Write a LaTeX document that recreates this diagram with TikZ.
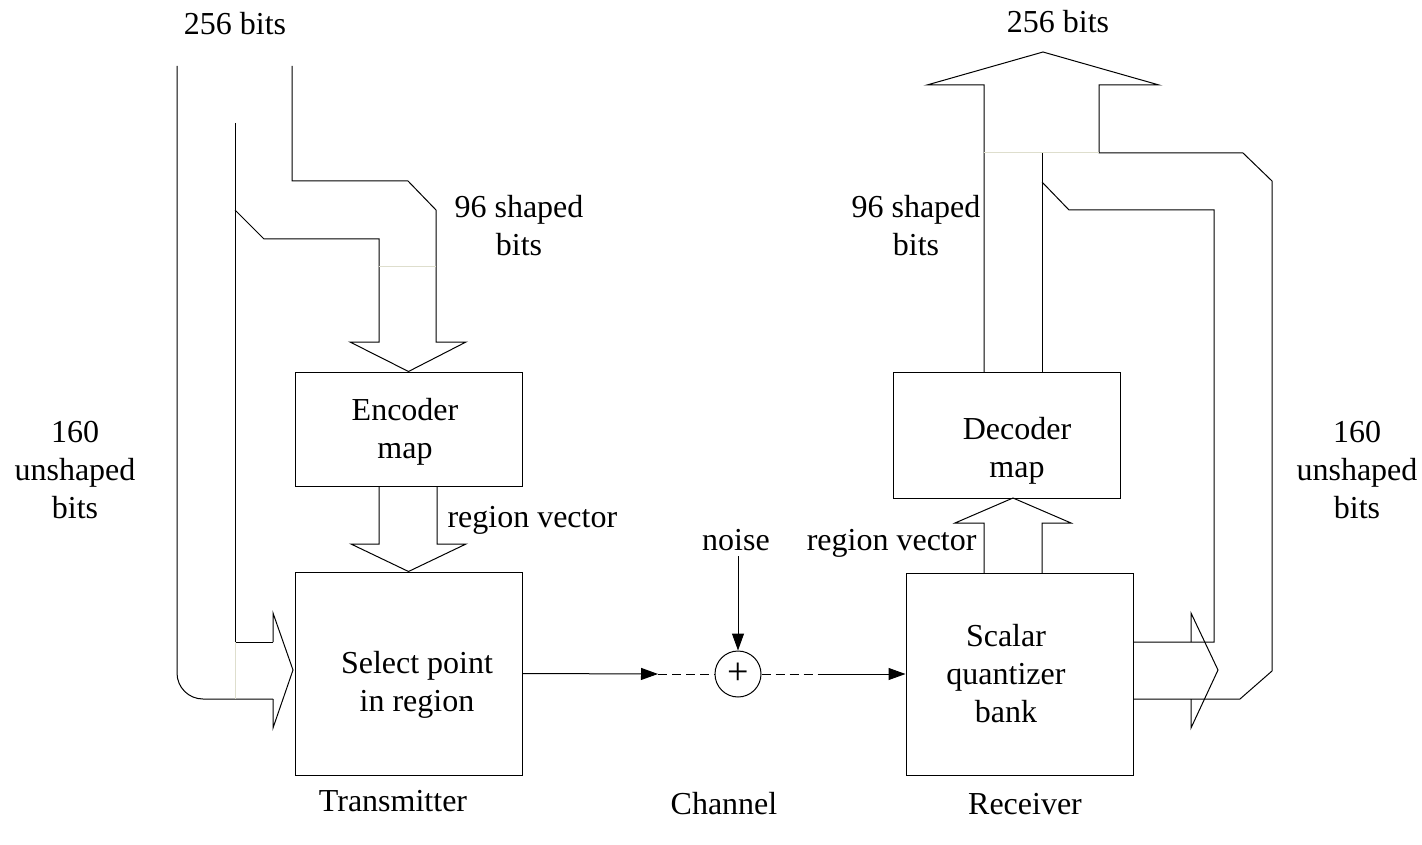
\documentclass[tikz,border=0pt]{standalone}
\usepackage{fontspec}
\setmainfont{Liberation Serif}
\usetikzlibrary{arrows.meta}
\definecolor{paleline}{RGB}{222,222,205}
\begin{document}
\begin{tikzpicture}[x=1pt,y=-1pt,line width=1pt,line join=miter,
  every node/.style={font=\fontsize{32}{38}\selectfont, inner sep=0pt},
  blockbox/.style={draw, minimum width=227pt},
  lbl/.style={align=center},
  pale/.style={draw=paleline},
  sig/.style={-{Triangle[length=17pt,width=12pt]}},
  chan/.style={dash pattern=on 9pt off 5pt}]
\useasboundingbox (0,0) rectangle (1422,845);

% processing blocks
\node[blockbox, minimum height=114pt] (enc) at (408.5,429) {};
\node[blockbox, minimum height=203pt] (sel) at (408.5,673.5) {};
\node[blockbox, minimum height=126pt] (dec) at (1006.5,435) {};
\node[blockbox, minimum height=202pt] (sqb) at (1019.5,674) {};
\node[draw, circle, minimum size=46pt, font=\fontsize{38}{40}\selectfont] (sum) at (738,674) {+};

% block captions
\node[lbl] (encT) at (405,432) {Encoder\\map};
\node[lbl] (selT) at (417,685) {Select point\\in region};
\node[lbl] (decT) at (1017,451) {Decoder\\map};
\node[lbl] (sqbT) at (1006,674) {Scalar\\quantizer\\bank};

% bit-stream labels
\node[anchor=base] (inbits) at (235,35) {256 bits};
\node[anchor=base] (outbits) at (1058,33) {256 bits};
\node[lbl] (shapedL) at (519,226) {96 shaped\\bits};
\node[lbl] (shapedR) at (916,226) {96 shaped\\bits};
\node[lbl] (unshL) at (75,470) {160\\unshaped\\bits};
\node[lbl] (unshR) at (1357,470) {160\\unshaped\\bits};
\node[anchor=base west] (rvL) at (447,527) {region vector};
\node[anchor=base east] (rvR) at (977,550) {region vector};
\node[anchor=base] (noiseT) at (736,550) {noise};

% section captions
\node[anchor=base] (txT) at (393,811) {Transmitter};
\node[anchor=base] (chT) at (724,814) {Channel};
\node[anchor=base] (rxT) at (1025,814) {Receiver};

% transmitter: unshaped bits straight to the point selector
\draw[rounded corners=26pt] (177,66) -- (177,699) -- (273,699);
\draw (235,123) -- (235,642) -- (273,642);
\draw (273,642) -- (273,613) -- (293,670) -- (273,728) -- (273,699);
\draw[pale] (235,642) -- (235,699);

% transmitter: shaped bits into the encoder map
\draw (235,210) -- (264,239) -- (379,239) -- (379,342) -- (350,342)
  -- (enc.north) -- (466,342) -- (436,342) -- (436,210) -- (408,181)
  -- (292,181) -- (292,66);
\draw[pale] (379,267) -- (436,267);

% encoder map to point selector
\draw (379,486) -- (379,544) -- (351,544) -- (sel.north) -- (466,544)
  -- (437,544) -- (437,486);

% channel
\coordinate (txout) at (658,674);
\coordinate (rxin) at (825,674);
\coordinate (noisein) at (738,556);
\draw[sig] (sel.east) -- (txout);
\draw[chan] (txout) -- (sum.west);
\draw[chan] (sum.east) -- (rxin);
\draw[sig] (rxin) -- (sqb.west);
\draw[sig] (noisein) -- (sum.north);

% receiver: quantizer to decoder map
\draw (984,573) -- (984,523) -- (955,523) -- (1013,498) -- (1071,523)
  -- (1042,523) -- (1042,573);

% receiver: merged output stream
\draw (984,372) -- (984,85) -- (927,85) -- (1043,52) -- (1159,85)
  -- (1099,85) -- (1099,153) -- (1243,153) -- (1272,181) -- (1272,671)
  -- (1240,699) -- (1133,699);
\draw[pale] (984,153) -- (1099,153);
\draw (1042,372) -- (1042,153);
\draw (1042,182) -- (1069,210) -- (1214,210) -- (1214,642) -- (1133,642);
\draw (1191,642) -- (1191,613) -- (1218,670) -- (1191,728) -- (1191,699);
\end{tikzpicture}
\end{document}
